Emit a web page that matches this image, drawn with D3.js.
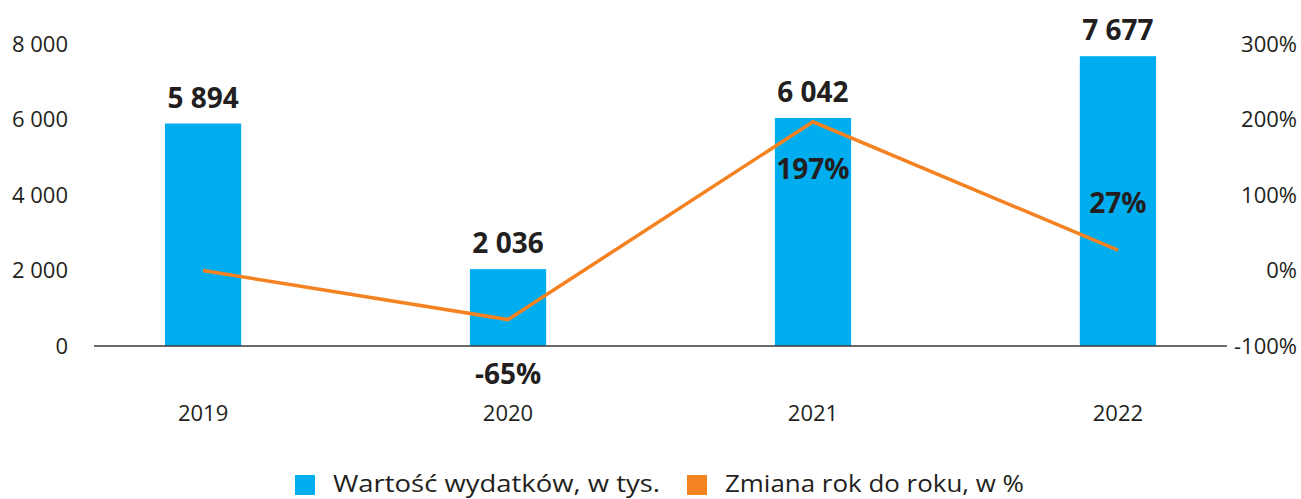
<!DOCTYPE html>
<html>
<head>
<meta charset="utf-8">
<script src="https://cdn.jsdelivr.net/npm/d3@7/dist/d3.min.js"></script>
<style>
  html, body { margin: 0; padding: 0; background: #fff; }
  svg { display: block; font-family: "Open Sans", "Noto Sans", sans-serif; }
</style>
</head>
<body>
<svg id="chart" width="1301" height="499"></svg>
<script>
// Chart data
const years = ["2019", "2020", "2021", "2022"];
const spending = [5894, 2036, 6042, 7677];          // Wartość wydatków, w tys.
const yoyChange = [0, -65, 197, 27];                // Zmiana rok do roku, w %
const yoyLabels = [null, "-65%", "197%", "27%"];
const leftTicks = [0, 2000, 4000, 6000, 8000];
const rightTicks = [-100, 0, 100, 200, 300];
const legendLabels = ["Wartość wydatków, w tys.", "Zmiana rok do roku, w %"];

// Label placement for the % labels: above (-1) or below (+1) the line point
const yoyLabelSide = [0, 1, 1, -1];

const BLUE = "#00AEEF";
const ORANGE = "#F58220";
const TEXT = "#231F20";

const svg = d3.select("#chart");

const x = d3.scaleBand()
  .domain(years)
  .range([94, 1227])
  .paddingInner(0.75)
  .paddingOuter(0.2326);

const yLeft = d3.scaleLinear().domain([0, 8000]).range([346, 44]);
const yRight = d3.scaleLinear().domain([-100, 300]).range([346, 44]);

const fmt = v => d3.format(",")(v).replace(/,/g, " ");

// Left axis labels
svg.append("g").selectAll("text")
  .data(leftTicks)
  .join("text")
  .attr("x", 68)
  .attr("y", d => yLeft(d))
  .attr("dy", "0.36em")
  .attr("text-anchor", "end")
  .attr("font-size", 22)
  .attr("fill", TEXT)
  .text(d => fmt(d));

// Right axis labels
svg.append("g").selectAll("text")
  .data(rightTicks)
  .join("text")
  .attr("x", 1297)
  .attr("y", d => yRight(d))
  .attr("dy", "0.36em")
  .attr("text-anchor", "end")
  .attr("font-size", 22)
  .attr("fill", TEXT)
  .text(d => d + "%");

// Bars
svg.append("g").selectAll("rect")
  .data(spending)
  .join("rect")
  .attr("x", (d, i) => x(years[i]))
  .attr("width", x.bandwidth())
  .attr("y", d => yLeft(d))
  .attr("height", d => yLeft(0) - yLeft(d))
  .attr("fill", BLUE);

// Baseline
svg.append("line")
  .attr("x1", 94).attr("x2", 1227)
  .attr("y1", yLeft(0)).attr("y2", yLeft(0))
  .attr("stroke", "#3a3a3a")
  .attr("stroke-width", 1.3);

// Category labels
svg.append("g").selectAll("text")
  .data(years)
  .join("text")
  .attr("x", d => x(d) + x.bandwidth() / 2)
  .attr("y", 413)
  .attr("dy", "0.36em")
  .attr("text-anchor", "middle")
  .attr("font-size", 22)
  .attr("fill", TEXT)
  .text(d => d);

// Bar value labels
svg.append("g").selectAll("text")
  .data(spending)
  .join("text")
  .attr("x", (d, i) => x(years[i]) + x.bandwidth() / 2)
  .attr("y", d => yLeft(d) - 16)
  .attr("text-anchor", "middle")
  .attr("font-size", 28)
  .attr("font-weight", 700)
  .attr("fill", TEXT)
  .text(d => fmt(d));

// Year-over-year line
const line = d3.line()
  .x((d, i) => x(years[i]) + x.bandwidth() / 2)
  .y(d => yRight(d));

svg.append("path")
  .datum(yoyChange)
  .attr("d", line)
  .attr("fill", "none")
  .attr("stroke", ORANGE)
  .attr("stroke-width", 3.5)
  .attr("stroke-linejoin", "miter");

// % labels
svg.append("g").selectAll("text")
  .data(yoyChange.map((v, i) => ({ v, i })).filter(d => yoyLabels[d.i]))
  .join("text")
  .attr("x", d => x(years[d.i]) + x.bandwidth() / 2)
  .attr("y", d => yRight(d.v) + yoyLabelSide[d.i] * (d.v < 0 ? 54 : 47))
  .attr("dy", "0.36em")
  .attr("text-anchor", "middle")
  .attr("font-size", 28)
  .attr("font-weight", 700)
  .attr("fill", TEXT)
  .text(d => yoyLabels[d.i]);

// Legend
const legend = svg.append("g");
const legendItems = [
  { sx: 295, tx: 333, w: 327, color: BLUE, label: legendLabels[0] },
  { sx: 687, tx: 725, w: 299, color: ORANGE, label: legendLabels[1] }
];
legend.selectAll("rect")
  .data(legendItems)
  .join("rect")
  .attr("x", d => d.sx).attr("y", 475)
  .attr("width", 20).attr("height", 20)
  .attr("fill", d => d.color);
legend.selectAll("text")
  .data(legendItems)
  .join("text")
  .attr("x", d => d.tx)
  .attr("y", 492)
  .attr("font-size", 24)
  .attr("textLength", d => d.w)
  .attr("lengthAdjust", "spacingAndGlyphs")
  .attr("fill", TEXT)
  .text(d => d.label);
</script>
</body>
</html>
